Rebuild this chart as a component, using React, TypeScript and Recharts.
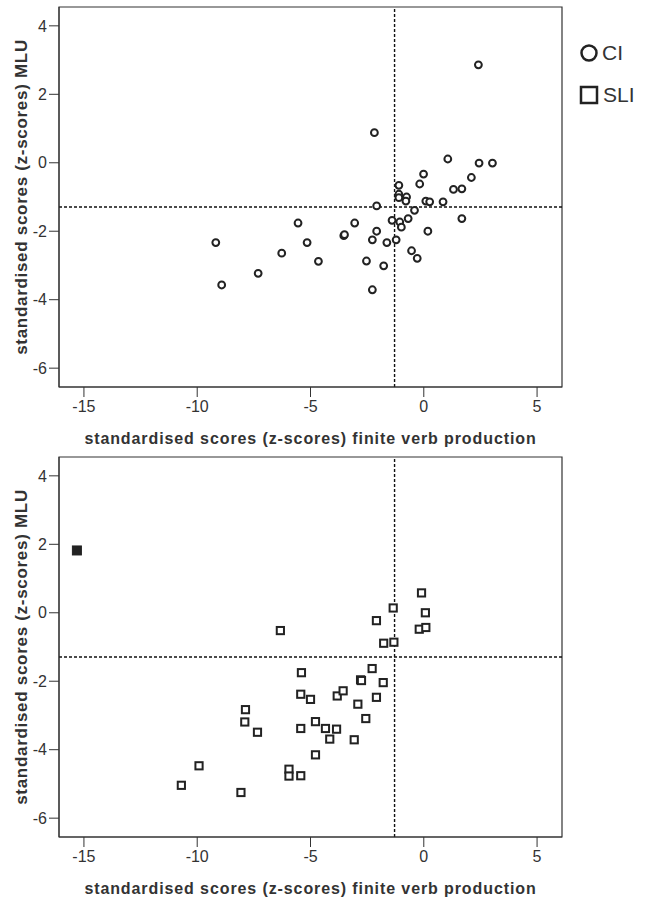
import React from "react";
import {
  ScatterChart, Scatter, XAxis, YAxis, ReferenceLine, ReferenceArea,
} from "recharts";

// CI group: finite verb production z (x) vs MLU z (y)
const ciFvp = [
  -9.18, -8.92, -7.31, -6.27, -5.55, -5.15, -4.65, 2.41, -2.18, 1.06,
  2.44, 3.03, -0.01, 2.10, -0.18, -1.10, 1.31, 1.68, -1.10, -1.10,
  -0.76, -0.79, 0.09, 0.26, 0.85, -2.08, -0.41, -1.40, -0.69, 1.68,
  -1.06, -0.99, -3.05, -3.53, -3.50, -2.08, -2.27, -1.63, -1.22, 0.18,
  -0.54, -0.29, -2.53, -1.77, -2.27,
];
const ciMlu = [
  -2.33, -3.57, -3.23, -2.64, -1.76, -2.33, -2.88, 2.86, 0.88, 0.11,
  -0.01, -0.01, -0.33, -0.43, -0.62, -0.66, -0.78, -0.76, -0.92, -1.02,
  -1.0, -1.12, -1.12, -1.14, -1.14, -1.26, -1.39, -1.68, -1.63, -1.63,
  -1.73, -1.88, -1.76, -2.13, -2.10, -2.0, -2.25, -2.33, -2.25, -2.0,
  -2.57, -2.79, -2.87, -3.01, -3.71,
];

// SLI group
const sliFvp = [
  -6.33, -5.40, -5.43, -5.00, -7.87, -7.90, -7.34, -5.43, -4.78, -4.34,
  -4.78, -9.92, -10.70, -8.07, -5.95, -5.95, -5.43, -0.10, -1.35, 0.07,
  -2.09, -0.20, 0.09, -1.77, -1.32, -2.28, -2.79, -2.75, -1.79, -3.82,
  -3.56, -2.09, -2.91, -3.85, -4.15, -2.56, -3.07,
];
const sliMlu = [
  -0.52, -1.75, -2.38, -2.53, -2.83, -3.19, -3.49, -3.38, -3.18, -3.38,
  -4.15, -4.47, -5.04, -5.25, -4.57, -4.77, -4.76, 0.58, 0.14, 0.0,
  -0.23, -0.48, -0.43, -0.89, -0.86, -1.63, -1.96, -1.98, -2.04, -2.43,
  -2.28, -2.47, -2.67, -3.40, -3.69, -3.09, -3.71,
];

// the one highlighted SLI case
const outlierFvp = [-15.31];
const outlierMlu = [1.82];

const xTicks = [-15, -10, -5, 0, 5];
const yTicks = [-6, -4, -2, 0, 2, 4];
const cutFvp = -1.29;
const cutMlu = -1.29;

const X_DOMAIN: [number, number] = [-16.1, 6.1];
const Y_DOMAIN: [number, number] = [-6.55, 4.55];

const zip = (xs: number[], ys: number[]) => xs.map((x, i) => ({ x, y: ys[i] }));

const INK = "#222";
const AXIS = "#333";
const FONT = "Arial, 'Liberation Sans', Helvetica, sans-serif";

const Ring = (p: any) => (
  <circle cx={p.cx} cy={p.cy} r={3.4} fill="#fff" stroke={INK} strokeWidth={2} />
);
const Box = (p: any) => (
  <rect x={p.cx - 3.6} y={p.cy - 3.6} width={7.2} height={7.2} fill="#fff" stroke={INK} strokeWidth={2} />
);
const SolidBox = (p: any) => (
  <rect x={p.cx - 4.5} y={p.cy - 4.5} width={9} height={9} fill={INK} stroke={INK} strokeWidth={1} />
);

function Panel({ children }: { children: React.ReactNode }) {
  return (
    <ScatterChart width={653} height={450} margin={{ top: 7, right: 91, bottom: 0, left: 0 }}>
      <XAxis
        type="number" dataKey="x" domain={X_DOMAIN} ticks={xTicks} allowDataOverflow
        height={63} tickSize={10} tickMargin={4}
        stroke={AXIS} tick={{ fill: AXIS, fontSize: 16, fontFamily: FONT }}
        label={{
          value: "standardised scores (z-scores) finite verb production",
          position: "insideBottom", offset: 6,
          style: { fontWeight: "bold", fontSize: 16, letterSpacing: 0.9, fill: AXIS, fontFamily: FONT },
        }}
      />
      <YAxis
        type="number" dataKey="y" domain={Y_DOMAIN} ticks={yTicks} allowDataOverflow
        width={59} tickSize={10} tickMargin={2}
        stroke={AXIS} tick={{ fill: AXIS, fontSize: 16, fontFamily: FONT }}
        label={{
          value: "standardised scores (z-scores) MLU",
          angle: -90, position: "insideLeft", offset: 21,
          style: { textAnchor: "middle", fontWeight: "bold", fontSize: 17, letterSpacing: 0.7, fill: AXIS, fontFamily: FONT },
        }}
      />
      <ReferenceArea
        x1={X_DOMAIN[0]} x2={X_DOMAIN[1]} y1={Y_DOMAIN[0]} y2={Y_DOMAIN[1]}
        fill="none" fillOpacity={0} stroke={AXIS} strokeWidth={1.2}
      />
      <ReferenceLine x={cutFvp} stroke="#111" strokeWidth={1.4} strokeDasharray="3 2" />
      <ReferenceLine y={cutMlu} stroke="#111" strokeWidth={1.4} strokeDasharray="3 2" />
      {children}
    </ScatterChart>
  );
}

export default function App() {
  return (
    <div style={{ position: "absolute", left: 0, top: 0, width: 653, height: 900, background: "#fff" }}>
      <Panel>
        <Scatter name="CI" data={zip(ciFvp, ciMlu)} shape={Ring} isAnimationActive={false} />
      </Panel>
      <Panel>
        <Scatter name="SLI" data={zip(sliFvp, sliMlu)} shape={Box} isAnimationActive={false} />
        <Scatter name="SLI outlier" data={zip(outlierFvp, outlierMlu)} shape={SolidBox} isAnimationActive={false} />
      </Panel>

      <div style={{ position: "absolute", left: 579, top: 40, fontFamily: FONT, fontSize: 21, color: AXIS, lineHeight: "26px" }}>
        <div style={{ display: "flex", alignItems: "center", height: 26, marginBottom: 16 }}>
          <svg width={20} height={20} style={{ marginRight: 3 }}>
            <circle cx={10} cy={10} r={7.5} fill="#fff" stroke={INK} strokeWidth={2.5} />
          </svg>
          CI
        </div>
        <div style={{ display: "flex", alignItems: "center", height: 26 }}>
          <svg width={20} height={20} style={{ marginRight: 4 }}>
            <rect x={2} y={2} width={16} height={16} fill="#fff" stroke={INK} strokeWidth={2.5} />
          </svg>
          SLI
        </div>
      </div>
    </div>
  );
}
